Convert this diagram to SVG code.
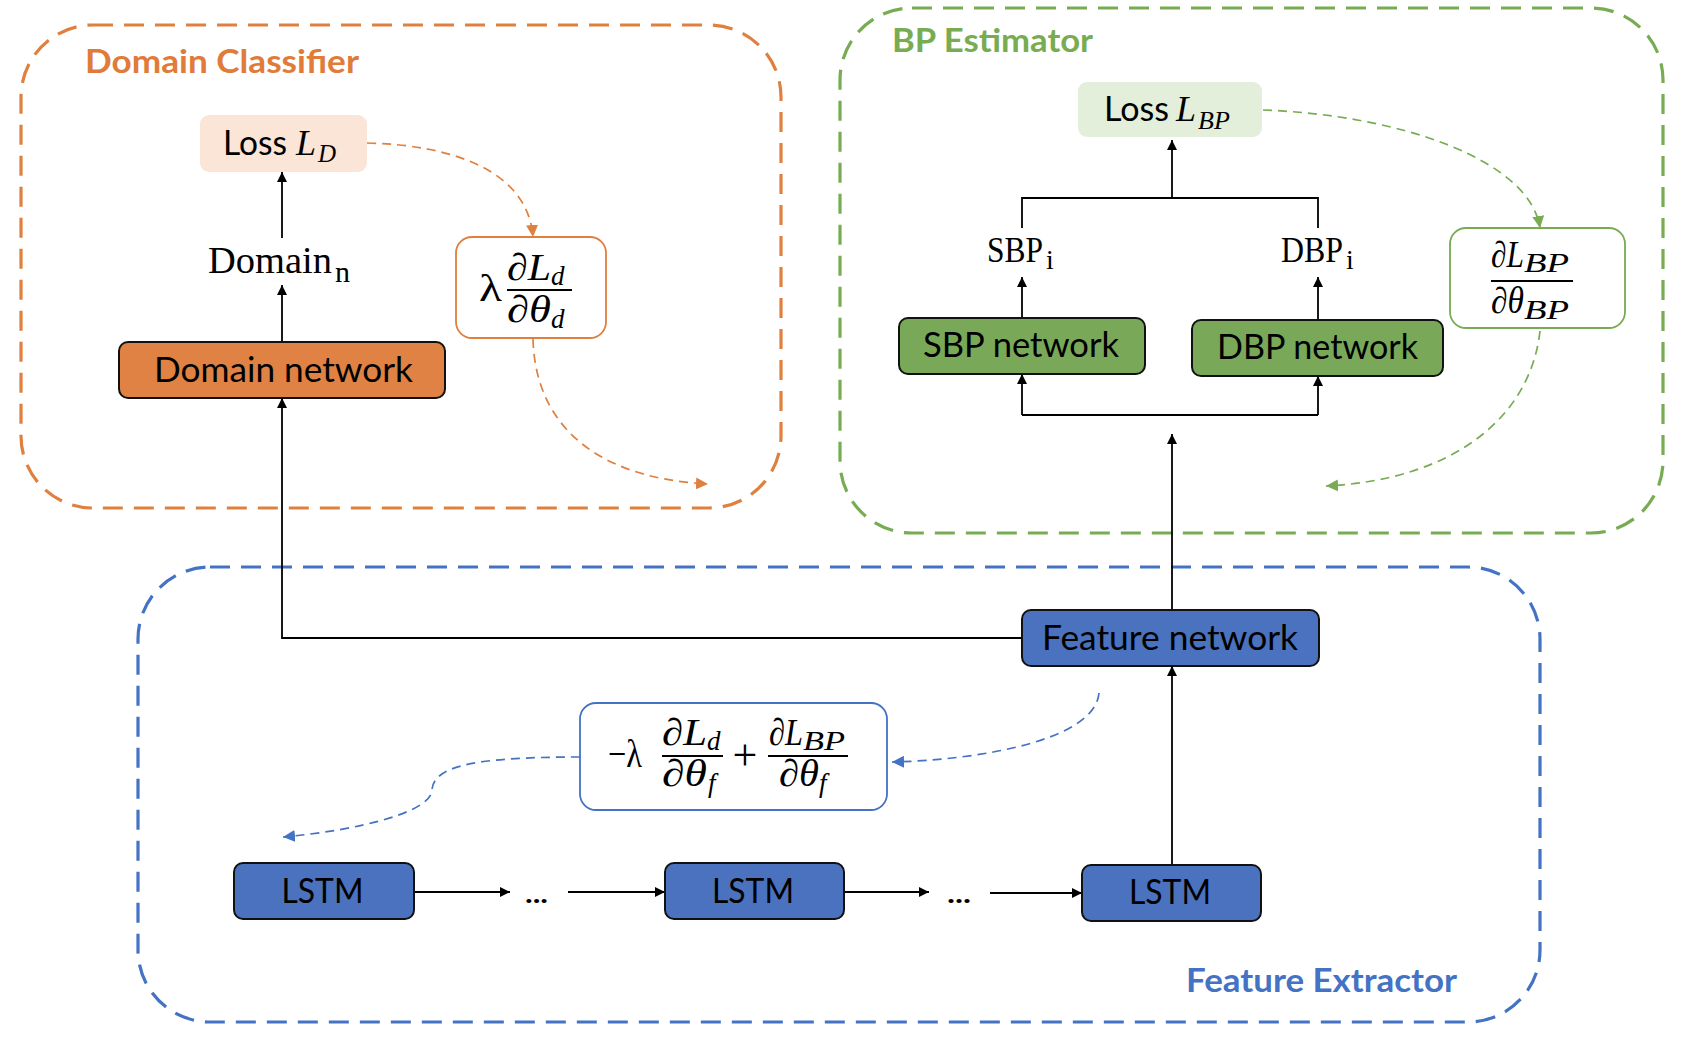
<svg xmlns="http://www.w3.org/2000/svg" width="1689" height="1061" viewBox="0 0 1689 1061">
<style>
.cont{fill:none;stroke-width:3.2;stroke-dasharray:20 11}
.node{stroke:#111;stroke-width:2}
.lbl{font-family:Lato,"Liberation Sans",sans-serif;font-size:34px;fill:#000;text-anchor:middle}
.head{font-family:Lato,"Liberation Sans",sans-serif;font-weight:bold;font-size:33px}
.ser{font-family:"Liberation Serif",serif;fill:#000}
.mi{font-family:"Liberation Serif",serif;font-style:italic;fill:#000}
.con{fill:none;stroke:#000;stroke-width:1.8}
.dash{fill:none;stroke-width:1.7;stroke-dasharray:9 6}
.bar{stroke:#000;stroke-width:2.2}
</style>
<defs>
<marker id="ah" viewBox="0 0 10 10" refX="10" refY="5" markerWidth="11" markerHeight="10" markerUnits="userSpaceOnUse" orient="auto"><path d="M0,0 L10,5 L0,10 z" fill="#000"/></marker>
<marker id="ao" viewBox="0 0 10 10" refX="10" refY="5" markerWidth="12" markerHeight="12" markerUnits="userSpaceOnUse" orient="auto"><path d="M0,0 L10,5 L0,10 z" fill="#E0803F"/></marker>
<marker id="ag" viewBox="0 0 10 10" refX="10" refY="5" markerWidth="12" markerHeight="12" markerUnits="userSpaceOnUse" orient="auto"><path d="M0,0 L10,5 L0,10 z" fill="#77AC52"/></marker>
<marker id="ab" viewBox="0 0 10 10" refX="10" refY="5" markerWidth="12" markerHeight="12" markerUnits="userSpaceOnUse" orient="auto"><path d="M0,0 L10,5 L0,10 z" fill="#4472C4"/></marker>
</defs>
<rect width="1689" height="1061" fill="#fff"/>

<g id="domain-classifier">
<rect class="cont" x="21" y="25" width="760" height="483" rx="72" stroke="#E0803F"/>
<text class="head" x="85" y="73" textLength="274" lengthAdjust="spacingAndGlyphs" fill="#E07B39">Domain Classifier</text>
</g>
<g id="bp-estimator">
<rect class="cont" x="840" y="8" width="823" height="525" rx="72" stroke="#77AC52"/>
<text class="head" x="892" y="52" textLength="201" lengthAdjust="spacingAndGlyphs" fill="#77AC52">BP Estimator</text>
</g>
<g id="feature-extractor">
<rect class="cont" x="138" y="567" width="1402" height="455" rx="72" stroke="#4472C4"/>
<text class="head" x="1186" y="992" textLength="271" lengthAdjust="spacingAndGlyphs" fill="#4472C4">Feature Extractor</text>
</g>

<g id="connectors">
<path class="con" d="M1022,638 H282 V398" marker-end="url(#ah)"/>
<path class="con" d="M282,342 V285" marker-end="url(#ah)"/>
<path class="con" d="M282,238 V172" marker-end="url(#ah)"/>
<path class="con" d="M1172,610 V434" marker-end="url(#ah)"/>
<path class="con" d="M1022,415 H1318"/>
<path class="con" d="M1022,415 V374" marker-end="url(#ah)"/>
<path class="con" d="M1318,415 V376" marker-end="url(#ah)"/>
<path class="con" d="M1022,318 V277" marker-end="url(#ah)"/>
<path class="con" d="M1318,320 V277" marker-end="url(#ah)"/>
<path class="con" d="M1022,228 V198 H1318 V228"/>
<path class="con" d="M1172,198 V140" marker-end="url(#ah)"/>
<path class="con" d="M414,892 H510" marker-end="url(#ah)"/>
<path class="con" d="M568,892 H665" marker-end="url(#ah)"/>
<path class="con" d="M844,892 H929" marker-end="url(#ah)"/>
<path class="con" d="M990,893 H1082" marker-end="url(#ah)"/>
<path class="con" d="M1172,865 V666" marker-end="url(#ah)"/>
<path class="dash" stroke="#E0803F" d="M367,143 C455,145 528,172 533,237" marker-end="url(#ao)"/>
<path class="dash" stroke="#E0803F" d="M533,339 C535,420 590,478 708,484" marker-end="url(#ao)"/>
<path class="dash" stroke="#77AC52" d="M1263,110 C1400,115 1530,160 1540,228" marker-end="url(#ag)"/>
<path class="dash" stroke="#77AC52" d="M1540,331 C1530,420 1450,480 1326,486" marker-end="url(#ag)"/>
<path class="dash" stroke="#4472C4" d="M1099,693 C1095,740 980,760 892,762" marker-end="url(#ab)"/>
<path class="dash" stroke="#4472C4" d="M580,757 C480,757 433,765 432,790 C431,812 360,830 283,837" marker-end="url(#ab)"/>
<text x="525" y="903" font-family="Lato,sans-serif" font-size="26" font-weight="bold" textLength="23" lengthAdjust="spacingAndGlyphs">...</text>
<text x="947" y="903" font-family="Lato,sans-serif" font-size="26" font-weight="bold" textLength="24" lengthAdjust="spacingAndGlyphs">...</text>
</g>

<g id="loss-d">
<rect x="200" y="115" width="167" height="57" rx="9" fill="#FAE5D7"/>
<text x="223" y="155" font-family="Lato,sans-serif" font-size="34"><tspan textLength="64" lengthAdjust="spacingAndGlyphs">Loss</tspan><tspan class="mi" x="296" y="155" font-size="36">L</tspan><tspan class="mi" x="318" y="162" font-size="25">D</tspan></text>
</g>
<g id="domain-n">
<text class="ser" x="208" y="273" font-size="38"><tspan textLength="124" lengthAdjust="spacingAndGlyphs">Domain</tspan><tspan x="335" y="282" font-size="30">n</tspan></text>
</g>
<g id="domain-network">
<rect class="node" x="119" y="342" width="326" height="56" rx="9" fill="#DF8244"/>
<text class="lbl" x="283.5" y="382" textLength="259" lengthAdjust="spacingAndGlyphs">Domain network</text>
</g>
<g id="grad-d">
<rect x="456" y="237" width="150" height="101" rx="16" fill="#fff" stroke="#E0803F" stroke-width="1.8"/>
<text class="ser" x="479" y="301" font-size="38" textLength="23" lengthAdjust="spacingAndGlyphs">λ</text>
<text class="mi" x="507" y="280" font-size="38"><tspan textLength="44" lengthAdjust="spacingAndGlyphs">∂L</tspan><tspan x="551" y="285" font-size="27">d</tspan></text>
<line class="bar" x1="507" y1="290" x2="572" y2="290"/>
<text class="mi" x="507" y="322" font-size="38"><tspan textLength="44" lengthAdjust="spacingAndGlyphs">∂θ</tspan><tspan x="551" y="328" font-size="27">d</tspan></text>
</g>

<g id="loss-bp">
<rect x="1078" y="82" width="184" height="55" rx="9" fill="#E3EFDA"/>
<text x="1104" y="121" font-family="Lato,sans-serif" font-size="34"><tspan textLength="65" lengthAdjust="spacingAndGlyphs">Loss</tspan><tspan class="mi" x="1176" y="121" font-size="36">L</tspan><tspan class="mi" x="1198" y="129" font-size="26">BP</tspan></text>
</g>
<g id="sbp-i">
<text class="ser" x="987" y="262" font-size="36"><tspan textLength="56" lengthAdjust="spacingAndGlyphs">SBP</tspan><tspan x="1046" y="269" font-size="28">i</tspan></text>
</g>
<g id="dbp-i">
<text class="ser" x="1281" y="262" font-size="36"><tspan textLength="62" lengthAdjust="spacingAndGlyphs">DBP</tspan><tspan x="1346" y="269" font-size="28">i</tspan></text>
</g>
<g id="sbp-network">
<rect class="node" x="899" y="318" width="246" height="56" rx="9" fill="#79A958"/>
<text class="lbl" x="1021" y="356.5" textLength="196" lengthAdjust="spacingAndGlyphs">SBP network</text>
</g>
<g id="dbp-network">
<rect class="node" x="1192" y="320" width="251" height="56" rx="9" fill="#79A958"/>
<text class="lbl" x="1317.5" y="359" textLength="201" lengthAdjust="spacingAndGlyphs">DBP network</text>
</g>
<g id="grad-bp">
<rect x="1450" y="228" width="175" height="100" rx="16" fill="#fff" stroke="#77AC52" stroke-width="1.8"/>
<text class="mi" x="1491" y="267" font-size="37"><tspan textLength="33" lengthAdjust="spacingAndGlyphs">∂L</tspan><tspan x="1524" y="272" font-size="27" textLength="45" lengthAdjust="spacingAndGlyphs">BP</tspan></text>
<line class="bar" x1="1491" y1="281" x2="1573" y2="281"/>
<text class="mi" x="1491" y="313" font-size="37"><tspan textLength="33" lengthAdjust="spacingAndGlyphs">∂θ</tspan><tspan x="1524" y="319" font-size="27" textLength="45" lengthAdjust="spacingAndGlyphs">BP</tspan></text>
</g>

<g id="feature-network">
<rect class="node" x="1022" y="610" width="297" height="56" rx="9" fill="#4A72BE"/>
<text class="lbl" x="1170" y="650" textLength="256" lengthAdjust="spacingAndGlyphs">Feature network</text>
</g>
<g id="grad-f">
<rect x="580" y="703" width="307" height="107" rx="16" fill="#fff" stroke="#4472C4" stroke-width="1.8"/>
<text class="ser" x="608" y="767" font-size="40"><tspan textLength="34" lengthAdjust="spacingAndGlyphs">−λ</tspan></text>
<text class="mi" x="662" y="745" font-size="38"><tspan textLength="45" lengthAdjust="spacingAndGlyphs">∂L</tspan><tspan x="707" y="750" font-size="27">d</tspan></text>
<line class="bar" x1="662" y1="756" x2="723" y2="756"/>
<text class="mi" x="662" y="786" font-size="38"><tspan textLength="45" lengthAdjust="spacingAndGlyphs">∂θ</tspan><tspan x="708" y="792" font-size="27">f</tspan></text>
<text class="ser" x="745" y="770" font-size="44" text-anchor="middle">+</text>
<text class="mi" x="769" y="745" font-size="38"><tspan textLength="34" lengthAdjust="spacingAndGlyphs">∂L</tspan><tspan x="803" y="750" font-size="27" textLength="42" lengthAdjust="spacingAndGlyphs">BP</tspan></text>
<line class="bar" x1="768" y1="756" x2="848" y2="756"/>
<text class="mi" x="779" y="786" font-size="38"><tspan textLength="40" lengthAdjust="spacingAndGlyphs">∂θ</tspan><tspan x="819" y="792" font-size="27">f</tspan></text>
</g>
<g id="lstm-1">
<rect class="node" x="234" y="863" width="180" height="56" rx="9" fill="#4A72BE"/>
<text class="lbl" x="322.5" y="903" textLength="82" lengthAdjust="spacingAndGlyphs">LSTM</text>
</g>
<g id="lstm-2">
<rect class="node" x="665" y="863" width="179" height="56" rx="9" fill="#4A72BE"/>
<text class="lbl" x="753" y="903" textLength="82" lengthAdjust="spacingAndGlyphs">LSTM</text>
</g>
<g id="lstm-3">
<rect class="node" x="1082" y="865" width="179" height="56" rx="9" fill="#4A72BE"/>
<text class="lbl" x="1170" y="904" textLength="82" lengthAdjust="spacingAndGlyphs">LSTM</text>
</g>
</svg>
